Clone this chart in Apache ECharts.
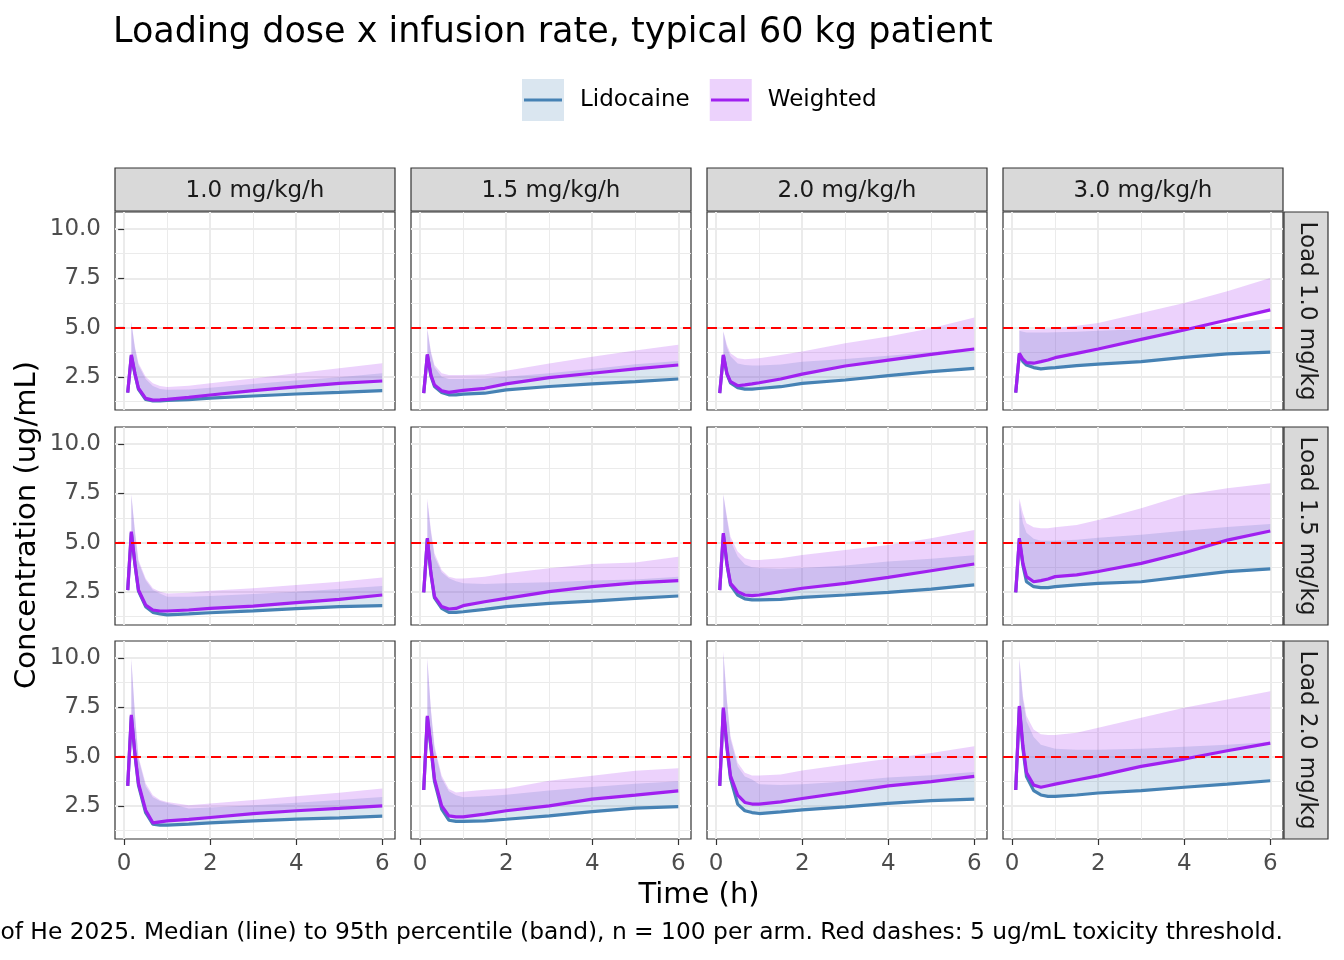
<!DOCTYPE html>
<html>
<head>
<meta charset="utf-8">
<title>Loading dose x infusion rate</title>
<script src="https://cdn.jsdelivr.net/npm/echarts@6/dist/echarts.min.js"></script>
<style>
  html, body { margin: 0; padding: 0; background: #fff; }
  #chart { width: 1344px; height: 960px; }
</style>
</head>
<body>
<div id="chart"></div>
<script>
// time after start (h); band (p95) has no value at the first sample
var timeH = [0.083, 0.167, 0.25, 0.333, 0.5, 0.667, 0.833, 1, 1.5, 2, 3, 4, 5, 6];
var infusionLabels = ['1.0 mg/kg/h', '1.5 mg/kg/h', '2.0 mg/kg/h', '3.0 mg/kg/h'];
var loadLabels = ['Load 1.0 mg/kg', 'Load 1.5 mg/kg', 'Load 2.0 mg/kg'];
var xTicks = [0, 2, 4, 6];
var xMinor = [1, 3, 5];
var yTicks = [2.5, 5, 7.5, 10];
var yMinor = [1.25, 3.75, 6.25, 8.75];
var threshold = 5;

// Load 1.0 mg/kg -- one list per infusion rate
var lidoMedLoad10 = [
  [1.71, 3.58, 2.65, 1.88, 1.36, 1.29, 1.29, 1.31, 1.36, 1.43, 1.54, 1.64, 1.72, 1.81],
  [1.68, 3.62, 2.55, 2.02, 1.72, 1.60, 1.60, 1.63, 1.68, 1.85, 2.02, 2.15, 2.27, 2.40],
  [1.68, 3.60, 2.65, 2.20, 1.96, 1.89, 1.89, 1.92, 2.01, 2.18, 2.35, 2.57, 2.77, 2.94],
  [1.71, 3.65, 3.28, 3.11, 2.98, 2.91, 2.95, 2.98, 3.08, 3.15, 3.28, 3.50, 3.67, 3.76]
];
var wtMedLoad10 = [
  [1.71, 3.62, 2.69, 1.93, 1.42, 1.33, 1.34, 1.37, 1.47, 1.59, 1.81, 2.00, 2.18, 2.30],
  [1.68, 3.65, 2.60, 2.10, 1.80, 1.72, 1.77, 1.82, 1.93, 2.15, 2.47, 2.69, 2.91, 3.11],
  [1.68, 3.62, 2.69, 2.27, 2.06, 2.10, 2.15, 2.21, 2.40, 2.65, 3.06, 3.36, 3.65, 3.92],
  [1.71, 3.70, 3.40, 3.23, 3.20, 3.28, 3.36, 3.48, 3.70, 3.92, 4.41, 4.88, 5.39, 5.90]
];
var lidoP95Load10 = [
  [null, 5.25, 3.95, 3.10, 2.40, 2.05, 1.90, 1.85, 1.87, 1.96, 2.15, 2.32, 2.49, 2.69],
  [null, 4.90, 3.70, 3.00, 2.52, 2.40, 2.40, 2.40, 2.43, 2.52, 2.69, 2.91, 3.15, 3.31],
  [null, 4.80, 4.00, 3.55, 3.19, 3.11, 3.08, 3.08, 3.14, 3.28, 3.41, 3.58, 3.75, 4.00],
  [null, 4.85, 4.80, 4.75, 4.75, 4.75, 4.75, 4.77, 4.80, 4.84, 4.92, 5.00, 5.20, 5.45]
];
var wtP95Load10 = [
  [null, 5.31, 4.04, 3.20, 2.52, 2.18, 2.05, 2.00, 2.06, 2.18, 2.43, 2.69, 2.94, 3.20],
  [null, 4.97, 3.79, 3.11, 2.69, 2.60, 2.60, 2.60, 2.63, 2.82, 3.19, 3.53, 3.84, 4.13],
  [null, 4.83, 4.12, 3.70, 3.45, 3.40, 3.42, 3.45, 3.62, 3.79, 4.21, 4.55, 4.97, 5.51],
  [null, 4.89, 4.92, 4.89, 4.89, 4.92, 4.95, 4.98, 5.10, 5.24, 5.74, 6.25, 6.84, 7.52]
];

// Load 1.5 mg/kg
var lidoMedLoad15 = [
  [2.60, 5.50, 3.90, 2.55, 1.76, 1.47, 1.39, 1.34, 1.39, 1.45, 1.55, 1.66, 1.76, 1.81],
  [2.48, 5.18, 3.40, 2.20, 1.67, 1.47, 1.47, 1.50, 1.62, 1.76, 1.93, 2.04, 2.18, 2.30],
  [2.60, 5.42, 3.90, 2.85, 2.35, 2.15, 2.10, 2.10, 2.13, 2.23, 2.35, 2.48, 2.65, 2.86],
  [2.48, 5.18, 3.85, 3.02, 2.77, 2.72, 2.72, 2.77, 2.86, 2.94, 3.02, 3.28, 3.53, 3.67]
];
var wtMedLoad15 = [
  [2.60, 5.56, 3.95, 2.60, 1.84, 1.59, 1.54, 1.54, 1.59, 1.67, 1.79, 1.96, 2.13, 2.35],
  [2.48, 5.23, 3.46, 2.27, 1.76, 1.64, 1.67, 1.81, 2.01, 2.18, 2.52, 2.77, 2.96, 3.08],
  [2.60, 5.48, 3.95, 2.94, 2.52, 2.35, 2.32, 2.35, 2.52, 2.69, 2.94, 3.24, 3.58, 3.92],
  [2.48, 5.23, 3.95, 3.28, 3.02, 3.08, 3.16, 3.28, 3.37, 3.54, 3.95, 4.49, 5.13, 5.59]
];
var lidoP95Load15 = [
  [null, 7.40, 5.50, 4.00, 3.10, 2.60, 2.42, 2.26, 2.26, 2.30, 2.40, 2.52, 2.65, 2.81],
  [null, 7.10, 5.50, 4.30, 3.50, 3.20, 3.05, 2.94, 2.91, 2.94, 2.99, 3.08, 3.14, 3.28],
  [null, 7.40, 6.20, 5.10, 4.30, 3.90, 3.75, 3.72, 3.68, 3.72, 3.85, 4.05, 4.19, 4.36],
  [null, 7.10, 6.00, 5.50, 5.20, 5.10, 5.10, 5.10, 5.15, 5.25, 5.40, 5.60, 5.80, 5.95]
];
var wtP95Load15 = [
  [null, 7.47, 5.64, 4.12, 3.19, 2.69, 2.52, 2.43, 2.47, 2.57, 2.69, 2.86, 3.02, 3.24],
  [null, 7.25, 5.64, 4.46, 3.62, 3.28, 3.19, 3.19, 3.28, 3.45, 3.70, 3.92, 3.99, 4.29],
  [null, 7.47, 6.32, 5.30, 4.55, 4.21, 4.12, 4.12, 4.21, 4.38, 4.63, 4.88, 5.22, 5.64],
  [null, 7.25, 6.49, 5.98, 5.78, 5.73, 5.73, 5.78, 5.90, 6.15, 6.74, 7.42, 7.76, 8.01]
];

// Load 2.0 mg/kg
var lidoMedLoad20 = [
  [3.52, 7.05, 5.10, 3.55, 2.16, 1.58, 1.53, 1.53, 1.58, 1.65, 1.75, 1.84, 1.90, 1.99],
  [3.31, 7.00, 5.45, 3.75, 2.34, 1.78, 1.72, 1.72, 1.75, 1.83, 2.00, 2.22, 2.39, 2.47],
  [3.52, 7.40, 5.45, 3.90, 2.60, 2.26, 2.17, 2.12, 2.20, 2.31, 2.46, 2.63, 2.77, 2.85],
  [3.31, 7.50, 5.40, 4.00, 3.28, 3.06, 2.99, 2.99, 3.06, 3.16, 3.28, 3.45, 3.61, 3.78]
];
var wtMedLoad20 = [
  [3.52, 7.12, 5.16, 3.64, 2.29, 1.65, 1.70, 1.75, 1.82, 1.92, 2.12, 2.26, 2.38, 2.51],
  [3.31, 7.07, 5.55, 3.86, 2.51, 2.00, 1.95, 1.95, 2.09, 2.26, 2.51, 2.85, 3.05, 3.27],
  [3.52, 7.49, 5.55, 4.03, 3.05, 2.68, 2.60, 2.60, 2.71, 2.88, 3.19, 3.52, 3.74, 4.00],
  [3.31, 7.57, 5.55, 4.20, 3.56, 3.45, 3.53, 3.61, 3.82, 4.03, 4.51, 4.88, 5.30, 5.69]
];
var lidoP95Load20 = [
  [null, 9.90, 7.10, 4.90, 3.50, 2.95, 2.75, 2.65, 2.37, 2.42, 2.54, 2.66, 2.80, 2.96],
  [null, 9.90, 7.30, 5.40, 3.90, 3.25, 3.05, 2.95, 3.00, 3.07, 3.29, 3.46, 3.63, 3.76],
  [null, 10.20, 7.80, 5.90, 4.50, 4.00, 3.85, 3.60, 3.57, 3.60, 3.74, 3.94, 4.06, 4.22],
  [null, 9.90, 7.90, 6.80, 6.00, 5.60, 5.50, 5.40, 5.35, 5.35, 5.40, 5.50, 5.60, 5.75]
];
var wtP95Load20 = [
  [null, 9.99, 7.20, 5.00, 3.64, 3.05, 2.80, 2.71, 2.54, 2.63, 2.80, 3.00, 3.17, 3.39],
  [null, 10.02, 7.40, 5.55, 4.03, 3.36, 3.19, 3.22, 3.32, 3.39, 3.78, 4.03, 4.29, 4.42],
  [null, 10.36, 7.90, 6.04, 4.69, 4.18, 4.05, 4.05, 4.10, 4.30, 4.60, 4.89, 5.19, 5.53],
  [null, 10.02, 8.07, 7.06, 6.38, 6.13, 6.10, 6.10, 6.21, 6.46, 6.97, 7.48, 7.90, 8.32]
];

var lidoMed = [lidoMedLoad10, lidoMedLoad15, lidoMedLoad20];
var wtMed = [wtMedLoad10, wtMedLoad15, wtMedLoad20];
var lidoP95 = [lidoP95Load10, lidoP95Load15, lidoP95Load20];
var wtP95 = [wtP95Load10, wtP95Load15, wtP95Load20];

var FONT = 'DejaVu Sans';
var LIDO = '#4682B4', WT = '#A020F0';
var colLeft = [115, 411, 707, 1003];
var rowTop = [212, 427, 641];
var panelW = 280, panelH = 198;

function linePoints (vals) {
  return vals.map(function (v, i) { return [timeH[i], v]; });
}
// rows [t, median, p95] where the band exists
function bandRows (med, hi) {
  var out = [];
  for (var i = 0; i < timeH.length; i++) if (hi[i] != null) out.push([timeH[i], med[i], hi[i]]);
  return out;
}
// ribbon from median to p95, one polygon drawn through the axes' coord()
function bandSeries (name, rows, fill, ax) {
  return Object.assign({
    type: 'custom', name: name, silent: true, z: 2, clip: true,
    itemStyle: { color: fill },
    encode: { x: 0, y: [1, 2] },
    data: rows,
    renderItem: function (params, api) {
      if (params.dataIndex !== 0) return null;
      var top = [], bottom = [];
      rows.forEach(function (row) {
        top.push(api.coord([row[0], row[2]]));
        bottom.push(api.coord([row[0], row[1]]));
      });
      return { type: 'polygon', shape: { points: top.concat(bottom.reverse()) }, style: { fill: fill } };
    }
  }, ax);
}

var grids = [], xAxes = [], yAxes = [], series = [];
var tickStyle = { color: '#333333', width: 1.2 };
var labelStyle = { fontFamily: FONT, fontSize: 23, color: '#4D4D4D' };

for (var r = 0; r < 3; r++) {
  for (var c = 0; c < 4; c++) {
    var g = grids.length;
    grids.push({
      left: colLeft[c], top: rowTop[r], width: panelW, height: panelH,
      show: true, backgroundColor: '#fff', borderColor: '#333333', borderWidth: 1.2
    });
    var bottomRow = r === 2, firstCol = c === 0;
    // major + minor x axes
    xAxes.push({
      type: 'value', gridIndex: g, min: -0.213, max: 6.296,
      axisLine: { show: false },
      axisTick: { show: bottomRow, customValues: xTicks, length: 6, lineStyle: tickStyle },
      axisLabel: Object.assign({ show: bottomRow, customValues: xTicks, margin: 14 }, labelStyle),
      splitLine: { show: true, lineStyle: { color: '#EBEBEB', width: 2 } }
    });
    xAxes.push({
      type: 'value', gridIndex: g, min: -0.213, max: 6.296,
      axisLine: { show: false },
      axisTick: { show: false, customValues: xMinor },
      axisLabel: { show: false, customValues: xMinor },
      splitLine: { show: true, lineStyle: { color: '#EBEBEB', width: 1 } }
    });
    yAxes.push({
      type: 'value', gridIndex: g, min: 0.83, max: 10.86,
      axisLine: { show: false },
      axisTick: { show: firstCol, customValues: yTicks, length: 6, lineStyle: tickStyle },
      axisLabel: Object.assign({ show: firstCol, customValues: yTicks, margin: 14, padding: [3, 0, 0, 0],
        formatter: function (v) { return v.toFixed(1); } }, labelStyle),
      splitLine: { show: true, lineStyle: { color: '#EBEBEB', width: 2 } }
    });
    yAxes.push({
      type: 'value', gridIndex: g, min: 0.83, max: 10.86,
      axisLine: { show: false },
      axisTick: { show: false, customValues: yMinor },
      axisLabel: { show: false, customValues: yMinor },
      splitLine: { show: true, lineStyle: { color: '#EBEBEB', width: 1 } }
    });

    var ax = { xAxisIndex: 2 * g, yAxisIndex: 2 * g };
    var lm = lidoMed[r][c], wm = wtMed[r][c], lh = lidoP95[r][c], wh = wtP95[r][c];

    series.push(bandSeries('Lidocaine', bandRows(lm, lh), 'rgba(70,130,180,0.2)', ax));
    series.push(bandSeries('Weighted', bandRows(wm, wh), 'rgba(160,32,240,0.2)', ax));
    series.push(Object.assign({
      type: 'line', name: 'Lidocaine', symbol: 'none', color: LIDO,
      lineStyle: { color: LIDO, width: 3.2 }, data: linePoints(lm), z: 3
    }, ax));
    series.push(Object.assign({
      type: 'line', name: 'Weighted', symbol: 'none', color: WT,
      lineStyle: { color: WT, width: 3.2 }, data: linePoints(wm), z: 4,
      markLine: {
        silent: true, symbol: 'none', label: { show: false },
        lineStyle: { color: '#FF0000', type: [10, 6], width: 2.2 },
        data: [{ yAxis: threshold }]
      }
    }, ax));
  }
}

var graphics = [];
// column strips
infusionLabels.forEach(function (lab, c) {
  graphics.push({ type: 'rect', shape: { x: colLeft[c], y: 168, width: panelW, height: 43 },
    style: { fill: '#D9D9D9', stroke: '#333333', lineWidth: 1.2 }, z: 5 });
  graphics.push({ type: 'text', x: colLeft[c] + panelW / 2, y: 191,
    style: { text: lab, fontFamily: FONT, fontSize: 23, fill: '#1A1A1A', align: 'center', verticalAlign: 'middle' }, z: 6 });
});
// row strips
loadLabels.forEach(function (lab, r) {
  graphics.push({ type: 'rect', shape: { x: 1284, y: rowTop[r], width: 44, height: panelH },
    style: { fill: '#D9D9D9', stroke: '#333333', lineWidth: 1.2 }, z: 5 });
  graphics.push({ type: 'text', x: 1307, y: rowTop[r] + panelH / 2, rotation: -Math.PI / 2,
    style: { text: lab, fontFamily: FONT, fontSize: 23, fill: '#1A1A1A', align: 'center', verticalAlign: 'middle' }, z: 6 });
});
// axis titles and caption
graphics.push({ type: 'text', x: 27, y: 525, rotation: Math.PI / 2,
  style: { text: 'Concentration (ug/mL)', fontFamily: FONT, fontSize: 29, fill: '#000', align: 'center', verticalAlign: 'middle' }, z: 6 });
graphics.push({ type: 'text', x: 699, y: 895,
  style: { text: 'Time (h)', fontFamily: FONT, fontSize: 29, fill: '#000', align: 'center', verticalAlign: 'middle' }, z: 6 });
graphics.push({ type: 'text', x: 1283, y: 933,
  style: { text: 'of He 2025. Median (line) to 95th percentile (band), n = 100 per arm. Red dashes: 5 ug/mL toxicity threshold.',
    fontFamily: FONT, fontSize: 23.35, fill: '#000', align: 'right', verticalAlign: 'middle' }, z: 6 });
// lines drawn across the legend keys
graphics.push({ type: 'line', shape: { x1: 524, y1: 100, x2: 562, y2: 100 }, style: { stroke: LIDO, lineWidth: 3 }, z: 10 });
graphics.push({ type: 'line', shape: { x1: 711, y1: 100, x2: 749, y2: 100 }, style: { stroke: WT, lineWidth: 3 }, z: 10 });

var chart = echarts.init(document.getElementById('chart'), null, { renderer: 'canvas' });
chart.setOption({
  animation: false,
  backgroundColor: '#fff',
  title: {
    text: 'Loading dose x infusion rate, typical 60 kg patient',
    left: 113, top: 15, padding: 0,
    textStyle: { fontFamily: FONT, fontSize: 35, fontWeight: 'normal', color: '#000' }
  },
  legend: {
    left: 522, top: 79, padding: 0, itemWidth: 42, itemHeight: 42, itemGap: 20,
    icon: 'rect', selectedMode: false,
    textStyle: { fontFamily: FONT, fontSize: 23, color: '#000', padding: [5, 0, 0, 11] },
    data: [
      { name: 'Lidocaine', itemStyle: { color: '#DAE6F0', opacity: 1, borderWidth: 0 } },
      { name: 'Weighted', itemStyle: { color: '#ECD2FC', opacity: 1, borderWidth: 0 } }
    ]
  },
  grid: grids,
  xAxis: xAxes,
  yAxis: yAxes,
  series: series,
  graphic: { elements: graphics }
});
</script>
</body>
</html>
